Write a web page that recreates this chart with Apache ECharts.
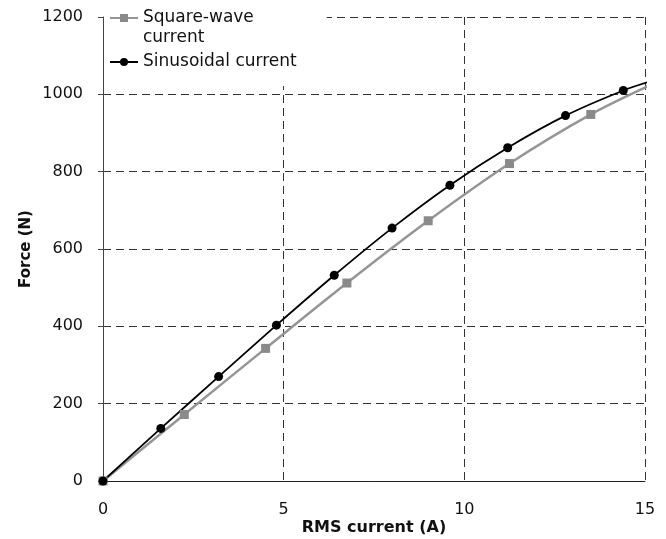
<!DOCTYPE html>
<html>
<head>
<meta charset="utf-8">
<script src="https://cdn.jsdelivr.net/npm/echarts@6/dist/echarts.min.js"></script>
<style>
  html, body { margin: 0; padding: 0; background: #fff; }
  #chart { width: 666px; height: 539px; }
</style>
</head>
<body>
<div id="chart"></div>
<script>
// readings taken off the figure
var sinX = [0, 1.6, 3.2, 4.8, 6.4, 8.0, 9.6, 11.2, 12.8, 14.4, 15.2];
var sinY = [0, 136, 270, 403, 532, 654, 765, 862, 945, 1010, 1035];
var sqX = [0, 2.25, 4.5, 6.75, 9.0, 11.25, 13.5, 15.2];
var sqY = [0, 172, 343, 512, 673, 821, 948, 1026];
var sqName = 'Square-wave\ncurrent';
var sinName = 'Sinusoidal current';

function pairs(xs, ys) {
    return xs.map(function (x, i) {
        var p = { value: [x, ys[i]] };
        if (x > 15) p.symbol = 'none'; // curve runs a bit past the last tick
        return p;
    });
}

var chart = echarts.init(document.getElementById('chart'));
var font = 'DejaVu Sans';

var option = {
    animation: false,
    backgroundColor: '#fff',
    grid: { left: 103, right: 21, top: 17, bottom: 58, outerBoundsMode: 'none' },
    legend: {
        orient: 'vertical',
        left: 104,
        top: -16,
        itemWidth: 28,
        itemHeight: 10,
        itemGap: 4,
        padding: [4, 30, 14, 5],
        backgroundColor: '#fff',
        textStyle: { fontFamily: font, fontSize: 17, color: '#111', lineHeight: 20 },
        // blank first line so the icon lines up with "Square-wave"
        formatter: function (name) {
            return name === sqName ? ' \n' + name : name;
        },
        data: [sqName, sinName]
    },
    xAxis: {
        type: 'value',
        min: 0, max: 15, interval: 5,
        name: 'RMS current (A)',
        nameLocation: 'middle',
        nameGap: 39,
        nameMoveOverlap: false,
        nameTextStyle: { fontFamily: font, fontSize: 16, fontWeight: 'bold', color: '#111' },
        axisLine: { lineStyle: { color: '#222', width: 1 } },
        axisTick: { show: false },
        axisLabel: { fontFamily: font, fontSize: 16, color: '#111', margin: 21 },
        splitLine: { lineStyle: { color: '#333', type: [8, 5], width: 1 } }
    },
    yAxis: {
        type: 'value',
        min: 0, max: 1200, interval: 200,
        name: 'Force (N)',
        nameLocation: 'middle',
        nameGap: 69,
        nameMoveOverlap: false,
        nameTextStyle: { fontFamily: font, fontSize: 15, fontWeight: 'bold', color: '#111' },
        axisLine: { show: true, lineStyle: { color: '#444', width: 1 } },
        axisTick: { show: true, length: 5, lineStyle: { color: '#444' } },
        axisLabel: {
            fontFamily: font, fontSize: 16, color: '#111', margin: 20,
            formatter: function (v) { return String(v); }
        },
        splitLine: { lineStyle: { color: '#333', type: [8, 5], width: 1 } }
    },
    series: [
        {
            name: sqName,
            type: 'line',
            smooth: 0.3,
            clip: false,
            symbol: 'rect',
            symbolSize: 9,
            itemStyle: { color: '#8a8a8a' },
            lineStyle: { color: '#959595', width: 2.5 },
            data: pairs(sqX, sqY)
        },
        {
            name: sinName,
            type: 'line',
            smooth: 0.3,
            clip: false,
            symbol: 'circle',
            symbolSize: 9,
            itemStyle: { color: '#000' },
            lineStyle: { color: '#000', width: 1.8 },
            data: pairs(sinX, sinY)
        }
    ]
};

chart.setOption(option);
</script>
</body>
</html>
